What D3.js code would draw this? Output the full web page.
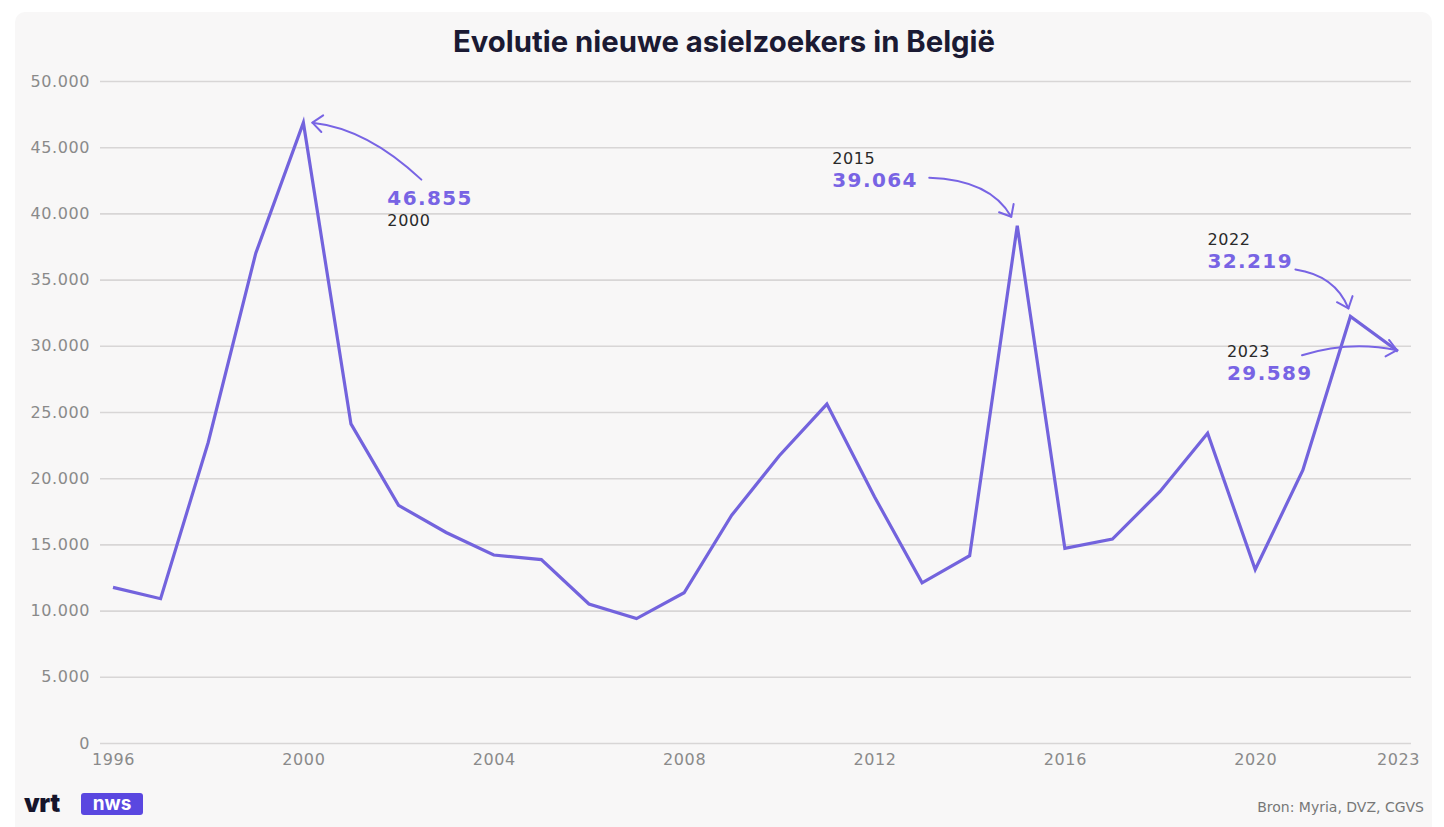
<!DOCTYPE html>
<html>
<head>
<meta charset="utf-8">
<script src="https://cdn.jsdelivr.net/npm/d3@7"></script>
<style>
  html, body { margin: 0; padding: 0; background: #ffffff; }
  svg { display: block; }
</style>
</head>
<body>
<svg id="chart" width="1444" height="827"></svg>
<script>
// ---------- DATA ----------
const years = [1996, 1997, 1998, 1999, 2000, 2001, 2002, 2003, 2004, 2005,
               2006, 2007, 2008, 2009, 2010, 2011, 2012, 2013, 2014, 2015,
               2016, 2017, 2018, 2019, 2020, 2021, 2022, 2023];
const asylumSeekers = [11750, 10900, 22700, 37000, 46855, 24100, 17950, 15900, 14200, 13850,
                       10500, 9400, 11350, 17200, 21700, 25600, 18600, 12100, 14150, 39064,
                       14700, 15400, 19000, 23400, 13100, 20600, 32219, 29589];
const yTickValues = [0, 5000, 10000, 15000, 20000, 25000, 30000, 35000, 40000, 45000, 50000];
const xTickValues = [1996, 2000, 2004, 2008, 2012, 2016, 2020, 2023];
const highlightYears = [2000, 2015, 2022, 2023];
const titleText = "Evolutie nieuwe asielzoekers in België";
const sourceText = "Bron: Myria, DVZ, CGVS";

// ---------- STYLE / LAYOUT ----------
const W = 1444, H = 827;
const lineColor = "#7363dd";
const accent = "#7864e4";
const gridColor = "#d8d6d6";
const labelColor = "#8a8a8a";
const plotLeft = 113, plotRight = 1398, gridLeft = 100, gridRight = 1411;
const plotTop = 81, plotBottom = 743;

const svg = d3.select("#chart");

// card background
svg.append("rect")
  .attr("x", 15).attr("y", 12).attr("width", 1417).attr("height", 840)
  .attr("rx", 10).attr("fill", "#f8f7f7");

const x = d3.scaleLinear().domain([1996, 2023]).range([plotLeft, plotRight]);
const y = d3.scaleLinear().domain([0, 50000]).range([plotBottom, plotTop]);

const nl = d3.formatLocale({ decimal: ",", thousands: ".", grouping: [3], currency: ["€", ""] });
const fmt = nl.format(",");

// Y axis with gridlines
const yAxis = svg.append("g")
  .attr("transform", `translate(${gridLeft},0)`)
  .call(d3.axisLeft(y).tickValues(yTickValues).tickFormat(fmt)
        .tickSize(-(gridRight - gridLeft)).tickPadding(10));
yAxis.select(".domain").remove();
yAxis.selectAll(".tick line").attr("stroke", gridColor).attr("stroke-width", 1.6);
yAxis.selectAll(".tick text")
  .attr("fill", labelColor)
  .style("font-family", "'DejaVu Sans', sans-serif")
  .style("font-size", "16px")
  .style("letter-spacing", "0.6px");

// X axis
const xAxis = svg.append("g")
  .attr("transform", `translate(0,${plotBottom})`)
  .call(d3.axisBottom(x).tickValues(xTickValues).tickFormat(d3.format("d"))
        .tickSize(0).tickPadding(11));
xAxis.select(".domain").remove();
xAxis.selectAll(".tick text")
  .attr("fill", labelColor)
  .style("font-family", "'DejaVu Sans', sans-serif")
  .style("font-size", "16px")
  .style("letter-spacing", "0.6px");

// line
const series = years.map((yr, i) => ({ year: yr, value: asylumSeekers[i] }));
svg.append("path")
  .datum(series)
  .attr("fill", "none")
  .attr("stroke", lineColor)
  .attr("stroke-width", 3.2)
  .attr("stroke-linejoin", "miter")
  .attr("d", d3.line().x(d => x(d.year)).y(d => y(d.value)));

// title
const title = svg.append("text")
  .attr("x", 724).attr("y", 52)
  .attr("text-anchor", "middle")
  .attr("fill", "#1b1a33")
  .style("font-family", "Inter, 'Noto Sans', sans-serif")
  .style("font-weight", 700)
  .style("font-size", "25px")
  .text(titleText);
const tw = title.node().getComputedTextLength();
title.style("font-size", (25 * 542 / tw).toFixed(2) + "px");

// annotations (positions relative to the data point)
const annLayout = {
  2000: { label: [84, 82], start: [118, 57], ctrl: [64, 6], tip: [9, 0], yearBelow: true },
  2015: { label: [-185, -39], start: [-88, -48], ctrl: [-27, -46], tip: [-6, -9], yearBelow: false },
  2022: { label: [-143, -48], start: [-55, -47], ctrl: [-15, -41], tip: [-2, -8], yearBelow: false },
  2023: { label: [-171, 29], start: [-96, 4], ctrl: [-48, -11], tip: [-1, -1], yearBelow: false }
};

const annG = svg.append("g");
highlightYears.forEach(yr => {
  const i = years.indexOf(yr);
  const v = asylumSeekers[i];
  const px = x(yr), py = y(v);
  const L = annLayout[yr];
  const lx = px + L.label[0], ly = py + L.label[1];

  const valText = annG.append("text")
    .attr("x", lx)
    .attr("y", L.yearBelow ? ly : ly)
    .attr("fill", accent)
    .style("font-family", "'DejaVu Sans', sans-serif")
    .style("font-weight", 700)
    .style("font-size", "20px")
    .style("letter-spacing", "1.4px")
    .text(fmt(v));
  annG.append("text")
    .attr("x", lx)
    .attr("y", L.yearBelow ? ly + 21 : ly - 23)
    .attr("fill", "#2a2a2a")
    .style("font-family", "'DejaVu Sans', sans-serif")
    .style("font-size", "16px")
    .style("letter-spacing", "0.6px")
    .text(yr);

  const s = [px + L.start[0], py + L.start[1]];
  const c = [px + L.ctrl[0], py + L.ctrl[1]];
  const t = [px + L.tip[0], py + L.tip[1]];
  annG.append("path")
    .attr("d", `M${s[0]},${s[1]} Q${c[0]},${c[1]} ${t[0]},${t[1]}`)
    .attr("fill", "none").attr("stroke", accent)
    .attr("stroke-width", 2).attr("stroke-linecap", "round");
  // arrow head
  const ang = Math.atan2(t[1] - c[1], t[0] - c[0]);
  const len = 13, spread = 0.7;
  const a1 = [t[0] - len * Math.cos(ang - spread), t[1] - len * Math.sin(ang - spread)];
  const a2 = [t[0] - len * Math.cos(ang + spread), t[1] - len * Math.sin(ang + spread)];
  annG.append("path")
    .attr("d", `M${a1[0]},${a1[1]} L${t[0]},${t[1]} L${a2[0]},${a2[1]}`)
    .attr("fill", "none").attr("stroke", accent)
    .attr("stroke-width", 2).attr("stroke-linecap", "round").attr("stroke-linejoin", "round");
});

// logo
svg.append("text")
  .attr("x", 24).attr("y", 812)
  .attr("fill", "#15142b")
  .style("font-family", "Inter, 'DejaVu Sans', sans-serif")
  .style("font-weight", 900)
  .style("font-size", "25px")
  .style("letter-spacing", "-0.5px")
  .text("vrt");
svg.append("rect")
  .attr("x", 81).attr("y", 793).attr("width", 62).attr("height", 22)
  .attr("rx", 3).attr("fill", "#5a47e0");
svg.append("text")
  .attr("x", 112).attr("y", 810)
  .attr("text-anchor", "middle")
  .attr("fill", "#ffffff")
  .style("font-family", "Inter, 'DejaVu Sans', sans-serif")
  .style("font-weight", 700)
  .style("font-size", "19px")
  .text("nws");

// source
svg.append("text")
  .attr("x", 1424).attr("y", 812)
  .attr("text-anchor", "end")
  .attr("fill", "#777777")
  .style("font-family", "'DejaVu Sans', sans-serif")
  .style("font-size", "14px")
  .text(sourceText);
</script>
</body>
</html>
